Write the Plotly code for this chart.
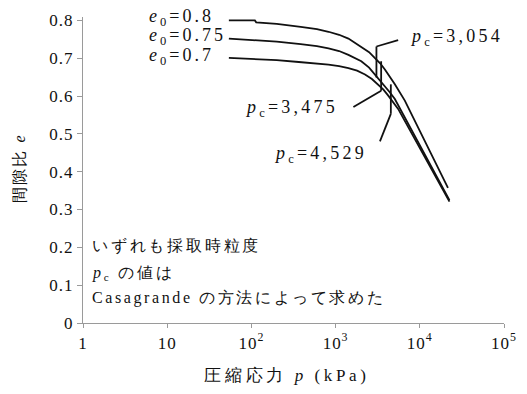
import plotly.graph_objects as go
import numpy as np

# e-log p compression curves (p in kPa, e = void ratio)
p_e080 = [54, 110, 114, 200, 385, 600, 824, 1100, 1420, 2020, 2500, 2935, 3400, 3850, 4400, 5055, 6640, 21600]
e_e080 = [0.800, 0.800, 0.795, 0.791, 0.783, 0.777, 0.770, 0.762, 0.752, 0.731, 0.716, 0.700, 0.686, 0.670, 0.651, 0.631, 0.588, 0.357]

p_e075 = [54, 200, 385, 600, 824, 1100, 1420, 2020, 2500, 2935, 3400, 3850, 4400, 5055, 22500]
e_e075 = [0.752, 0.744, 0.737, 0.732, 0.726, 0.719, 0.709, 0.692, 0.675, 0.657, 0.642, 0.627, 0.610, 0.592, 0.325]

p_e070 = [54, 200, 365, 600, 824, 1100, 1420, 1800, 2236, 2700, 3210, 3700, 4220, 4850, 5530, 22500]
e_e070 = [0.701, 0.695, 0.690, 0.686, 0.683, 0.679, 0.674, 0.667, 0.657, 0.645, 0.631, 0.617, 0.601, 0.584, 0.566, 0.321]

curve_labels = ["0.8", "0.75", "0.7"]
curve_label_e = [0.807, 0.757, 0.705]

# preconsolidation stresses (Casagrande) and their marker extents
pc_values = [3054, 3475, 4529]
pc_text = ["3,054", "3,475", "4,529"]
pc_e_low = [0.649, 0.614, 0.553]
pc_e_high = [0.731, 0.692, 0.631]
# leader lines: start point on marker, end point near label
leader_from_e = [0.731, 0.614, 0.553]
leader_to_p = [5530, 1627, 3362]
leader_to_e = [0.748, 0.571, 0.480]
pc_label_p = [7260, 80, 175]
pc_label_e = [0.755, 0.568, 0.446]

x_tickvals = [1, 10, 100, 1000, 10000, 100000]
x_ticktext = ["1", "10", "10<sup>2</sup>", "10<sup>3</sup>", "10<sup>4</sup>", "10<sup>5</sup>"]
y_tickvals = [0, 0.1, 0.2, 0.3, 0.4, 0.5, 0.6, 0.7, 0.8]
y_ticktext = ["0", "0.1", "0.2", "0.3", "0.4", "0.5", "0.6", "0.7", "0.8"]

note_lines = ["いずれも採取時粒度", "<i>p</i><sub>c</sub> の値は", "Casagrande の方法によって求めた"]
note_e = [0.203, 0.130, 0.065]

FONT = "Liberation Serif"
INK = "#111111"
AXIS = "#9a9a9a"
LW = 1.8

fig = go.Figure()
for px_, ey in [(p_e080, e_e080), (p_e075, e_e075), (p_e070, e_e070)]:
    fig.add_trace(go.Scatter(x=px_, y=ey, mode="lines",
                             line=dict(color=INK, width=LW),
                             hoverinfo="skip", showlegend=False))

# pc markers and leader lines
for i, pc in enumerate(pc_values):
    fig.add_trace(go.Scatter(x=[pc, pc], y=[pc_e_low[i], pc_e_high[i]], mode="lines",
                             line=dict(color=INK, width=LW), hoverinfo="skip", showlegend=False))
    fig.add_trace(go.Scatter(x=[pc, leader_to_p[i]], y=[leader_from_e[i], leader_to_e[i]], mode="lines",
                             line=dict(color=INK, width=LW), hoverinfo="skip", showlegend=False))

annotations = []
for lab, ey in zip(curve_labels, curve_label_e):
    annotations.append(dict(x=np.log10(5.7), y=ey, xref="x", yref="y",
                            text=f"<i>e</i><sub>0</sub>={lab}", showarrow=False,
                            xanchor="left", yanchor="middle", align="left",
                            font=dict(family=FONT, size=18, color=INK)))
for i in range(3):
    annotations.append(dict(x=np.log10(pc_label_p[i]), y=pc_label_e[i], xref="x", yref="y",
                            text=f"<i>p</i><sub>c</sub>={pc_text[i]}", showarrow=False,
                            xanchor="left", yanchor="middle", align="left",
                            font=dict(family=FONT, size=18, color=INK)))
for t, ey in zip(note_lines, note_e):
    annotations.append(dict(x=0.085, y=ey, xref="x", yref="y", text=t, showarrow=False,
                            xanchor="left", yanchor="middle", align="left",
                            font=dict(family=FONT, size=16, color=INK)))

# axis titles
annotations.append(dict(x=0.485, y=-0.172, xref="paper", yref="paper",
                        text="圧縮応力 <i>p</i> (kPa)", showarrow=False,
                        xanchor="center", yanchor="middle",
                        font=dict(family=FONT, size=17, color=INK)))
annotations.append(dict(x=-0.151, y=0.506, xref="paper", yref="paper",
                        text="間隙比 <i>e</i>", showarrow=False, textangle=-90,
                        xanchor="center", yanchor="middle",
                        font=dict(family=FONT, size=16, color=INK)))

fig.update_layout(
    width=527, height=394,
    margin=dict(l=83, r=21, t=11.5, b=71),
    paper_bgcolor="white", plot_bgcolor="white",
    font=dict(family=FONT),
    annotations=annotations,
    xaxis=dict(type="log", range=[0, 5], tickvals=x_tickvals, ticktext=x_ticktext,
               showgrid=False, zeroline=False, showline=True, linecolor=AXIS, linewidth=1.3,
               ticks="outside", ticklen=4, tickcolor=AXIS, tickwidth=1.3,
               tickfont=dict(family=FONT, size=17, color=INK)),
    yaxis=dict(range=[0, 0.809], tickvals=y_tickvals, ticktext=y_ticktext,
               showgrid=False, zeroline=False, showline=True, linecolor=AXIS, linewidth=1.3,
               ticks="outside", ticklen=5, tickcolor=AXIS, tickwidth=1.3,
               tickfont=dict(family=FONT, size=17, color=INK)),
)

# glyph spacing: curve / pc labels, notes, x title, y title, tick labels
post = """
var spacing = [3, 3, 3, 3.2, 3.2, 3.2, 2.8, 2.8, 2.6, 3.6, 2];
document.querySelectorAll('.annotation-text').forEach(function(t, i){
  t.style.letterSpacing = (spacing[i] || 2) + 'px';
});
document.querySelectorAll('.xtick text, .ytick text').forEach(function(t){
  t.style.letterSpacing = '1px';
});
"""
fig.write_html("out.html", post_script=post)
